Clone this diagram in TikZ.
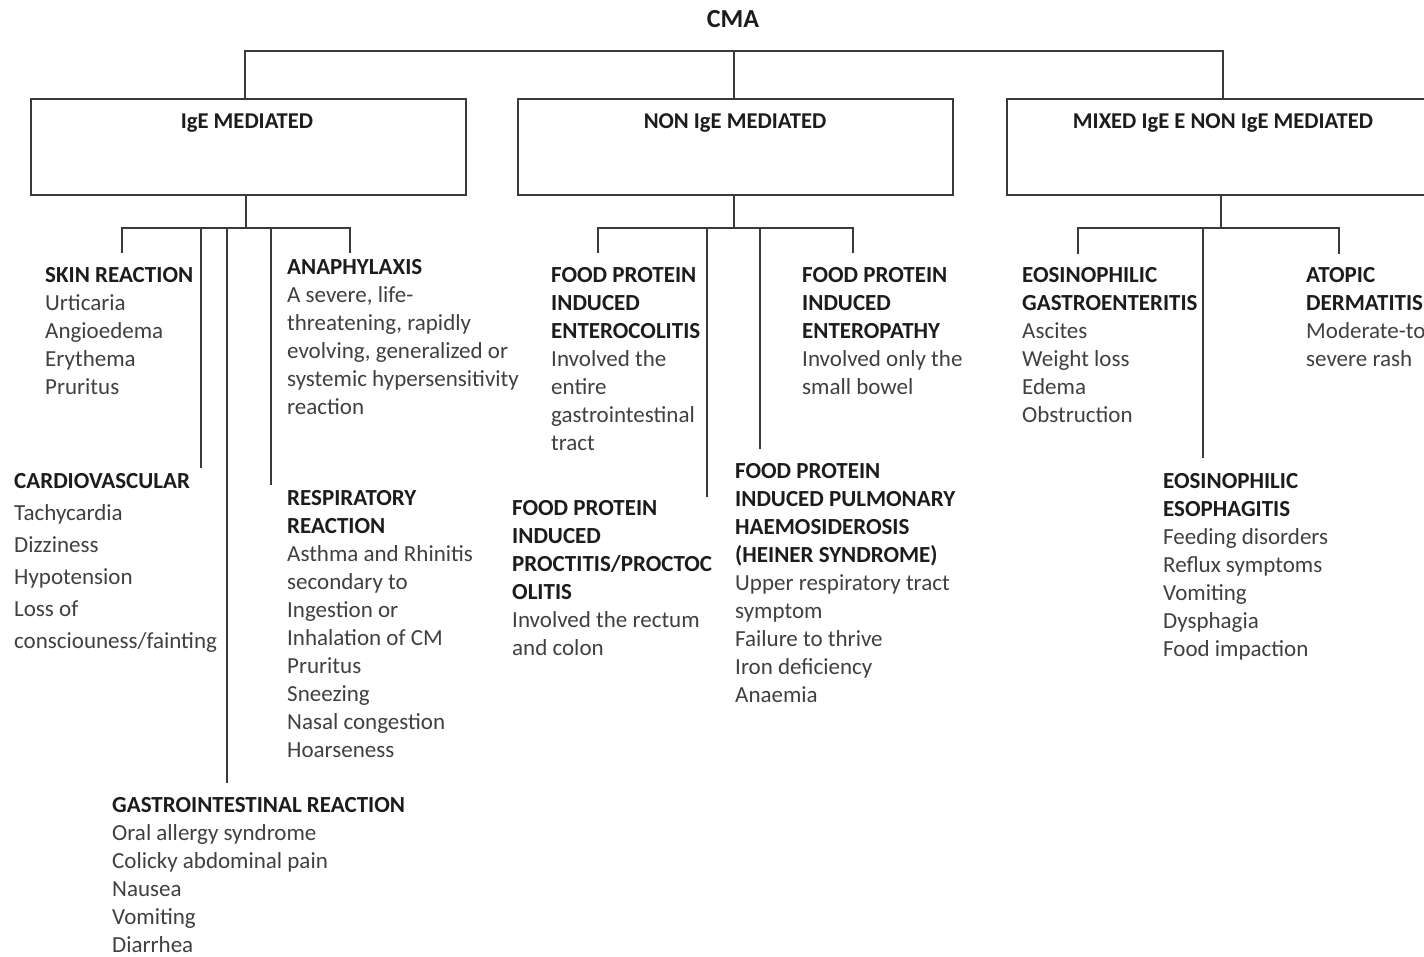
\documentclass[tikz,border=0pt]{standalone}
\usepackage{fontspec}
\setmainfont{Carlito}
\definecolor{ln}{HTML}{3A3A3A}
\definecolor{hd}{HTML}{1C1C1C}
\definecolor{bd}{HTML}{404040}
\newcommand\hdg[1]{{\bfseries\color{hd}#1}}
\begin{document}
\begin{tikzpicture}[x=1pt,y=-1pt,
  conn/.style={draw=ln,line width=1.6pt},
  catbox/.style={draw=ln,line width=1.6pt,rectangle,inner sep=0,anchor=north west},
  cat/.style={font=\fontsize{22.6}{28}\selectfont\bfseries,text=hd,anchor=base,inner sep=0},
  blk/.style={font=\fontsize{23}{28}\selectfont,text=bd,anchor=north west,inner sep=0,align=left},
  blkw/.style={font=\fontsize{23}{32}\selectfont,text=bd,anchor=north west,inner sep=0,align=left},
]
\clip (0,0) rectangle (1424,957);
\fill[white] (0,0) rectangle (1424,957);

% title
\node[cat,font=\fontsize{26}{30}\selectfont\bfseries] (cma) at (733,28) {CMA};

% category boxes
\node[catbox,minimum width=435pt,minimum height=96pt] (ige) at (30,98) {};
\node[catbox,minimum width=435pt,minimum height=96pt] (non) at (517,98) {};
\node[catbox,minimum width=434pt,minimum height=96pt] (mix) at (1006,98) {};
\node[cat] (igeL) at (247,129) {IgE MEDIATED};
\node[cat] (nonL) at (735,129) {NON IgE MEDIATED};
\node[cat] (mixL) at (1223,129) {MIXED IgE E NON IgE MEDIATED};

% top bus
\coordinate (topbus) at (0,51);
\draw[conn] ([xshift=-3.5pt]ige.north) -- ([xshift=-3.5pt]ige.north |- topbus) -- ([xshift=-1pt]mix.north |- topbus) -- ([xshift=-1pt]mix.north);
\draw[conn] ([xshift=-1.5pt]non.north) -- ([xshift=-1.5pt]non.north |- topbus);

% IgE subtree
\coordinate (igebus) at (0,228);
\coordinate (skinT) at (122,253);
\coordinate (cvT) at (201,468);
\coordinate (giT) at (227,783);
\coordinate (respT) at (271,485);
\coordinate (anaT) at (350,253);
\draw[conn] ([xshift=-2.5pt]ige.south) -- ([xshift=-2.5pt]ige.south |- igebus);
\draw[conn] (skinT) -- (skinT |- igebus) -- (anaT |- igebus) -- (anaT);
\draw[conn] (cvT |- igebus) -- (cvT);
\draw[conn] (giT |- igebus) -- (giT);
\draw[conn] (respT |- igebus) -- (respT);

% NON IgE subtree
\coordinate (nonbus) at (0,228);
\coordinate (fpT) at (598,253);
\coordinate (prT) at (707,497);
\coordinate (puT) at (760,449);
\coordinate (enT) at (853,253);
\draw[conn] ([xshift=-1.5pt]non.south) -- ([xshift=-1.5pt]non.south |- nonbus);
\draw[conn] (fpT) -- (fpT |- nonbus) -- (enT |- nonbus) -- (enT);
\draw[conn] (prT |- nonbus) -- (prT);
\draw[conn] (puT |- nonbus) -- (puT);

% MIXED subtree
\coordinate (mixbus) at (0,228);
\coordinate (egT) at (1078,254);
\coordinate (eeT) at (1203,458);
\coordinate (adT) at (1339,254);
\draw[conn] ([xshift=-3pt]mix.south) -- ([xshift=-3pt]mix.south |- mixbus);
\draw[conn] (egT) -- (egT |- mixbus) -- (adT |- mixbus) -- (adT);
\draw[conn] (eeT |- mixbus) -- (eeT);

% text blocks
\node[blk] (skin) at (45,262.4) {\strut\hdg{SKIN REACTION}\\Urticaria\\Angioedema\\Erythema\\Pruritus};
\node[blk] (ana) at (287,254.4) {\strut\hdg{ANAPHYLAXIS}\\A severe, life-\\threatening, rapidly\\evolving, generalized or\\systemic hypersensitivity\\reaction};
\node[blkw] (cv) at (14,465.6) {\strut\hdg{CARDIOVASCULAR}\\Tachycardia\\Dizziness\\Hypotension\\Loss of\\consciouness/fainting};
\node[blk] (resp) at (287,485.4) {\strut\hdg{RESPIRATORY}\\\hdg{REACTION}\\Asthma and Rhinitis\\secondary to\\Ingestion or\\Inhalation of CM\\Pruritus\\Sneezing\\Nasal congestion\\Hoarseness};
\node[blk] (gi) at (112,792.4) {\strut\hdg{GASTROINTESTINAL REACTION}\\Oral allergy syndrome\\Colicky abdominal pain\\Nausea\\Vomiting\\Diarrhea};

\node[blk] (fpies) at (551,262.4) {\strut\hdg{FOOD PROTEIN}\\\hdg{INDUCED}\\\hdg{ENTEROCOLITIS}\\Involved the\\entire\\gastrointestinal\\tract};
\node[blk] (entero) at (802,262.4) {\strut\hdg{FOOD PROTEIN}\\\hdg{INDUCED}\\\hdg{ENTEROPATHY}\\Involved only the\\small bowel};
\node[blk] (procto) at (512,495.4) {\strut\hdg{FOOD PROTEIN}\\\hdg{INDUCED}\\\hdg{PROCTITIS/PROCTOC}\\\hdg{OLITIS}\\Involved the rectum\\and colon};
\node[blk] (pulm) at (735,458.4) {\strut\hdg{FOOD PROTEIN}\\\hdg{INDUCED PULMONARY}\\\hdg{HAEMOSIDEROSIS}\\\hdg{(HEINER SYNDROME)}\\Upper respiratory tract\\symptom\\Failure to thrive\\Iron deficiency\\Anaemia};

\node[blk] (eoge) at (1022,262.4) {\strut\hdg{EOSINOPHILIC}\\\hdg{GASTROENTERITIS}\\Ascites\\Weight loss\\Edema\\Obstruction};
\node[blk] (atop) at (1306,262.4) {\strut\hdg{ATOPIC}\\\hdg{DERMATITIS}\\Moderate-to\\severe rash};
\node[blk] (eoe) at (1163,468.4) {\strut\hdg{EOSINOPHILIC}\\\hdg{ESOPHAGITIS}\\Feeding disorders\\Reflux symptoms\\Vomiting\\Dysphagia\\Food impaction};
\end{tikzpicture}
\end{document}
